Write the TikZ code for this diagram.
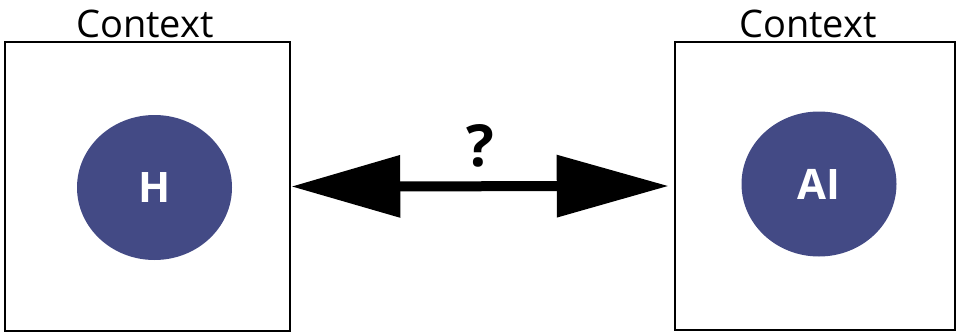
\documentclass[tikz,border=0pt]{standalone}
\usepackage{fontspec}
\setmainfont{Open Sans}
\usetikzlibrary{shapes.geometric,arrows.meta}
\definecolor{blob}{RGB}{67,74,133}
\begin{document}
\begin{tikzpicture}[x=1pt,y=1pt,
  ctxbox/.style={draw=black,line width=2.5pt,inner sep=0pt},
  agent/.style={ellipse,fill=blob,inner sep=0pt,minimum width=155pt,minimum height=145pt,
     text=white,font=\fontsize{42}{42}\selectfont\bfseries},
  ctxlabel/.style={font=\fontsize{38}{38}\selectfont,anchor=base,inner sep=0pt},
  link/.style={line width=10pt,{Triangle[length=109pt,width=60pt]}-{Triangle[length=112pt,width=60pt]}}]
\useasboundingbox (0,0) rectangle (956,333);
\node[ctxbox,minimum width=285pt,minimum height=289pt] (L) at (147.5,146.5) {};
\node[ctxbox,minimum width=280pt,minimum height=288pt] (R) at (815,147) {};
\node[agent] (H) at (154.5,145.5) {H};
\node[agent] (AI) at (819,149) {AI};
\node[ctxlabel] (cl) at (145,296) {Context};
\node[ctxlabel] (cr) at (808,296) {Context};
\draw[link] (L.east) -- ([xshift=-5pt]R.west) node[midway,above=14pt,font=\fontsize{58}{58}\selectfont\bfseries,inner sep=0pt] (q) {?};
\end{tikzpicture}
\end{document}
